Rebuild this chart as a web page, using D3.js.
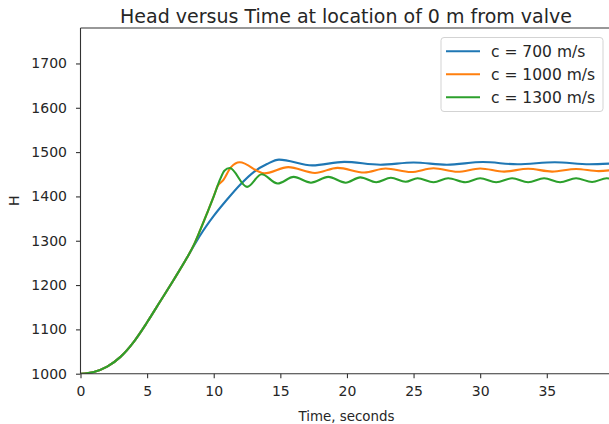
<!DOCTYPE html>
<html>
<head>
<meta charset="utf-8">
<script src="https://cdn.jsdelivr.net/npm/d3@7"></script>
<style>
  html, body { margin: 0; padding: 0; background: #fff; }
  svg { display: block; font-family: "DejaVu Sans", sans-serif; }
</style>
</head>
<body>
<svg id="chart" width="609" height="424"></svg>
<script>
// Pressure head at the valve for three wave speeds
const speedLabels = ["c = 700 m/s", "c = 1000 m/s", "c = 1300 m/s"];
const seriesColors = ["#1f77b4", "#ff7f0e", "#2ca02c"];

const timeC700 = [0, 1, 2, 3, 4, 5, 6, 7, 8, 8.5, 9, 10, 11, 12, 13, 14, 14.9,
  17.4, 19.8, 22.5, 25.0, 27.5, 30.2, 32.8, 35.6, 38.2, 40];
const headC700 = [1000, 1004, 1016, 1038, 1072, 1116, 1164, 1212, 1262, 1288, 1313, 1356, 1393, 1427, 1455, 1473, 1483,
  1470, 1478, 1471.5, 1476.5, 1471.5, 1477.5, 1472.5, 1477, 1472.5, 1474.5];

const timeC1000 = [0, 1, 2, 3, 4, 5, 6, 7, 8, 8.5, 9, 9.5, 10, 10.3, 10.7, 11.3, 11.95,
  13.8, 15.6, 17.6, 19.3, 21.3, 22.9, 24.8, 26.5, 28.3, 30.0, 31.8, 33.6, 35.4, 37.2, 38.9, 40];
const headC1000 = [1000, 1004, 1016, 1038, 1072, 1116, 1164, 1212, 1262, 1290, 1325, 1362, 1400, 1424, 1436, 1466, 1477,
  1452, 1466, 1453, 1464.5, 1454, 1463, 1455, 1463.5, 1455.5, 1463, 1456, 1462.5, 1456, 1462, 1457, 1460];

const timeC1300 = [0, 1, 2, 3, 4, 5, 6, 7, 8, 8.5, 9, 9.5, 10, 10.5, 10.8, 11.2,
  12.5, 13.6, 14.8, 16.0, 17.3, 18.6, 19.9, 21.0, 22.2, 23.3, 24.4, 25.3, 26.5, 27.6, 28.9,
  30.0, 31.2, 32.4, 33.6, 34.8, 36.0, 37.2, 38.4, 39.5, 40];
const headC1300 = [1000, 1004, 1016, 1038, 1072, 1116, 1164, 1212, 1262, 1290, 1325, 1362, 1400, 1440, 1458, 1464,
  1421.5, 1450, 1429, 1444, 1431, 1444, 1431, 1443, 1432, 1442, 1433, 1441, 1432, 1441, 1432,
  1441, 1432, 1441, 1432, 1441, 1432, 1441, 1432.5, 1441, 1438];

const xTicks = [0, 5, 10, 15, 20, 25, 30, 35];
const yTicks = [1000, 1100, 1200, 1300, 1400, 1500, 1600, 1700];

const series = [
  { label: speedLabels[0], color: seriesColors[0], t: timeC700, h: headC700 },
  { label: speedLabels[1], color: seriesColors[1], t: timeC1000, h: headC1000 },
  { label: speedLabels[2], color: seriesColors[2], t: timeC1300, h: headC1300 }
];

const svg = d3.select("#chart");
const plotLeft = 80.5, plotRight = 613.4, plotTop = 28, plotBottom = 373.7;

const x = d3.scaleLinear().domain([0, 40]).range([plotLeft, plotRight]);
const y = d3.scaleLinear().domain([1000, 1780]).range([plotBottom, plotTop]);

// plot lines, clipped to the axes box
svg.append("clipPath").attr("id", "plotClip")
  .append("rect").attr("x", plotLeft).attr("y", plotTop)
  .attr("width", plotRight - plotLeft).attr("height", plotBottom - plotTop);

const line = d3.line().curve(d3.curveMonotoneX);
const plot = svg.append("g").attr("clip-path", "url(#plotClip)");
series.forEach(s => {
  plot.append("path")
    .attr("d", line(s.t.map((tv, i) => [x(tv), y(s.h[i])])))
    .attr("fill", "none")
    .attr("stroke", s.color)
    .attr("stroke-width", 2.1)
    .attr("stroke-linejoin", "round")
    .attr("stroke-linecap", "square");
});

// axes
const xAxis = d3.axisBottom(x).tickValues(xTicks).tickSize(4.5).tickPadding(8).tickFormat(d3.format("d"));
const yAxis = d3.axisLeft(y).tickValues(yTicks).tickSize(4.5).tickPadding(9).tickFormat(d3.format("d"));

const gx = svg.append("g").attr("transform", `translate(0,${plotBottom})`).call(xAxis);
const gy = svg.append("g").attr("transform", `translate(${plotLeft},0)`).call(yAxis);
[gx, gy].forEach(g => {
  g.select(".domain").remove();
  g.selectAll(".tick line").attr("stroke", "#333").attr("stroke-width", 1.1);
  g.selectAll(".tick text").attr("fill", "#262626")
    .style("font-family", "DejaVu Sans").style("font-size", "14px");
});

// spines
const spine = svg.append("g").attr("stroke", "#333").attr("stroke-width", 1.1).attr("fill", "none");
spine.append("line").attr("x1", plotLeft).attr("x2", plotLeft).attr("y1", plotTop).attr("y2", plotBottom);
spine.append("line").attr("x1", plotLeft).attr("x2", plotRight).attr("y1", plotBottom).attr("y2", plotBottom);
spine.append("line").attr("x1", plotLeft).attr("x2", plotRight).attr("y1", plotTop).attr("y2", plotTop);
spine.append("line").attr("x1", plotRight).attr("x2", plotRight).attr("y1", plotTop).attr("y2", plotBottom);

// titles
svg.append("text")
  .attr("x", 346).attr("y", 22.5)
  .attr("text-anchor", "middle").attr("fill", "#262626")
  .style("font-size", "19px")
  .text("Head versus Time at location of 0 m from valve");

svg.append("text")
  .attr("x", 346.5).attr("y", 420.5)
  .attr("text-anchor", "middle").attr("fill", "#262626")
  .style("font-size", "13.4px")
  .text("Time, seconds");

svg.append("text")
  .attr("transform", `translate(19,${(plotTop + plotBottom) / 2}) rotate(-90)`)
  .attr("text-anchor", "middle").attr("fill", "#262626")
  .style("font-size", "14px")
  .text("H");

// legend
const legend = svg.append("g");
legend.append("rect")
  .attr("x", 441).attr("y", 37.5).attr("width", 162).attr("height", 74)
  .attr("rx", 3).attr("fill", "#fff").attr("fill-opacity", 0.8)
  .attr("stroke", "#d3d3d3").attr("stroke-width", 1);
series.forEach((s, i) => {
  const cy = 51.3 + i * 23;
  legend.append("line")
    .attr("x1", 446).attr("x2", 480).attr("y1", cy).attr("y2", cy)
    .attr("stroke", s.color).attr("stroke-width", 2.1);
  legend.append("text")
    .attr("x", 491).attr("y", cy + 5.6)
    .attr("fill", "#262626").style("font-size", "15.5px")
    .text(s.label);
});
</script>
</body>
</html>
